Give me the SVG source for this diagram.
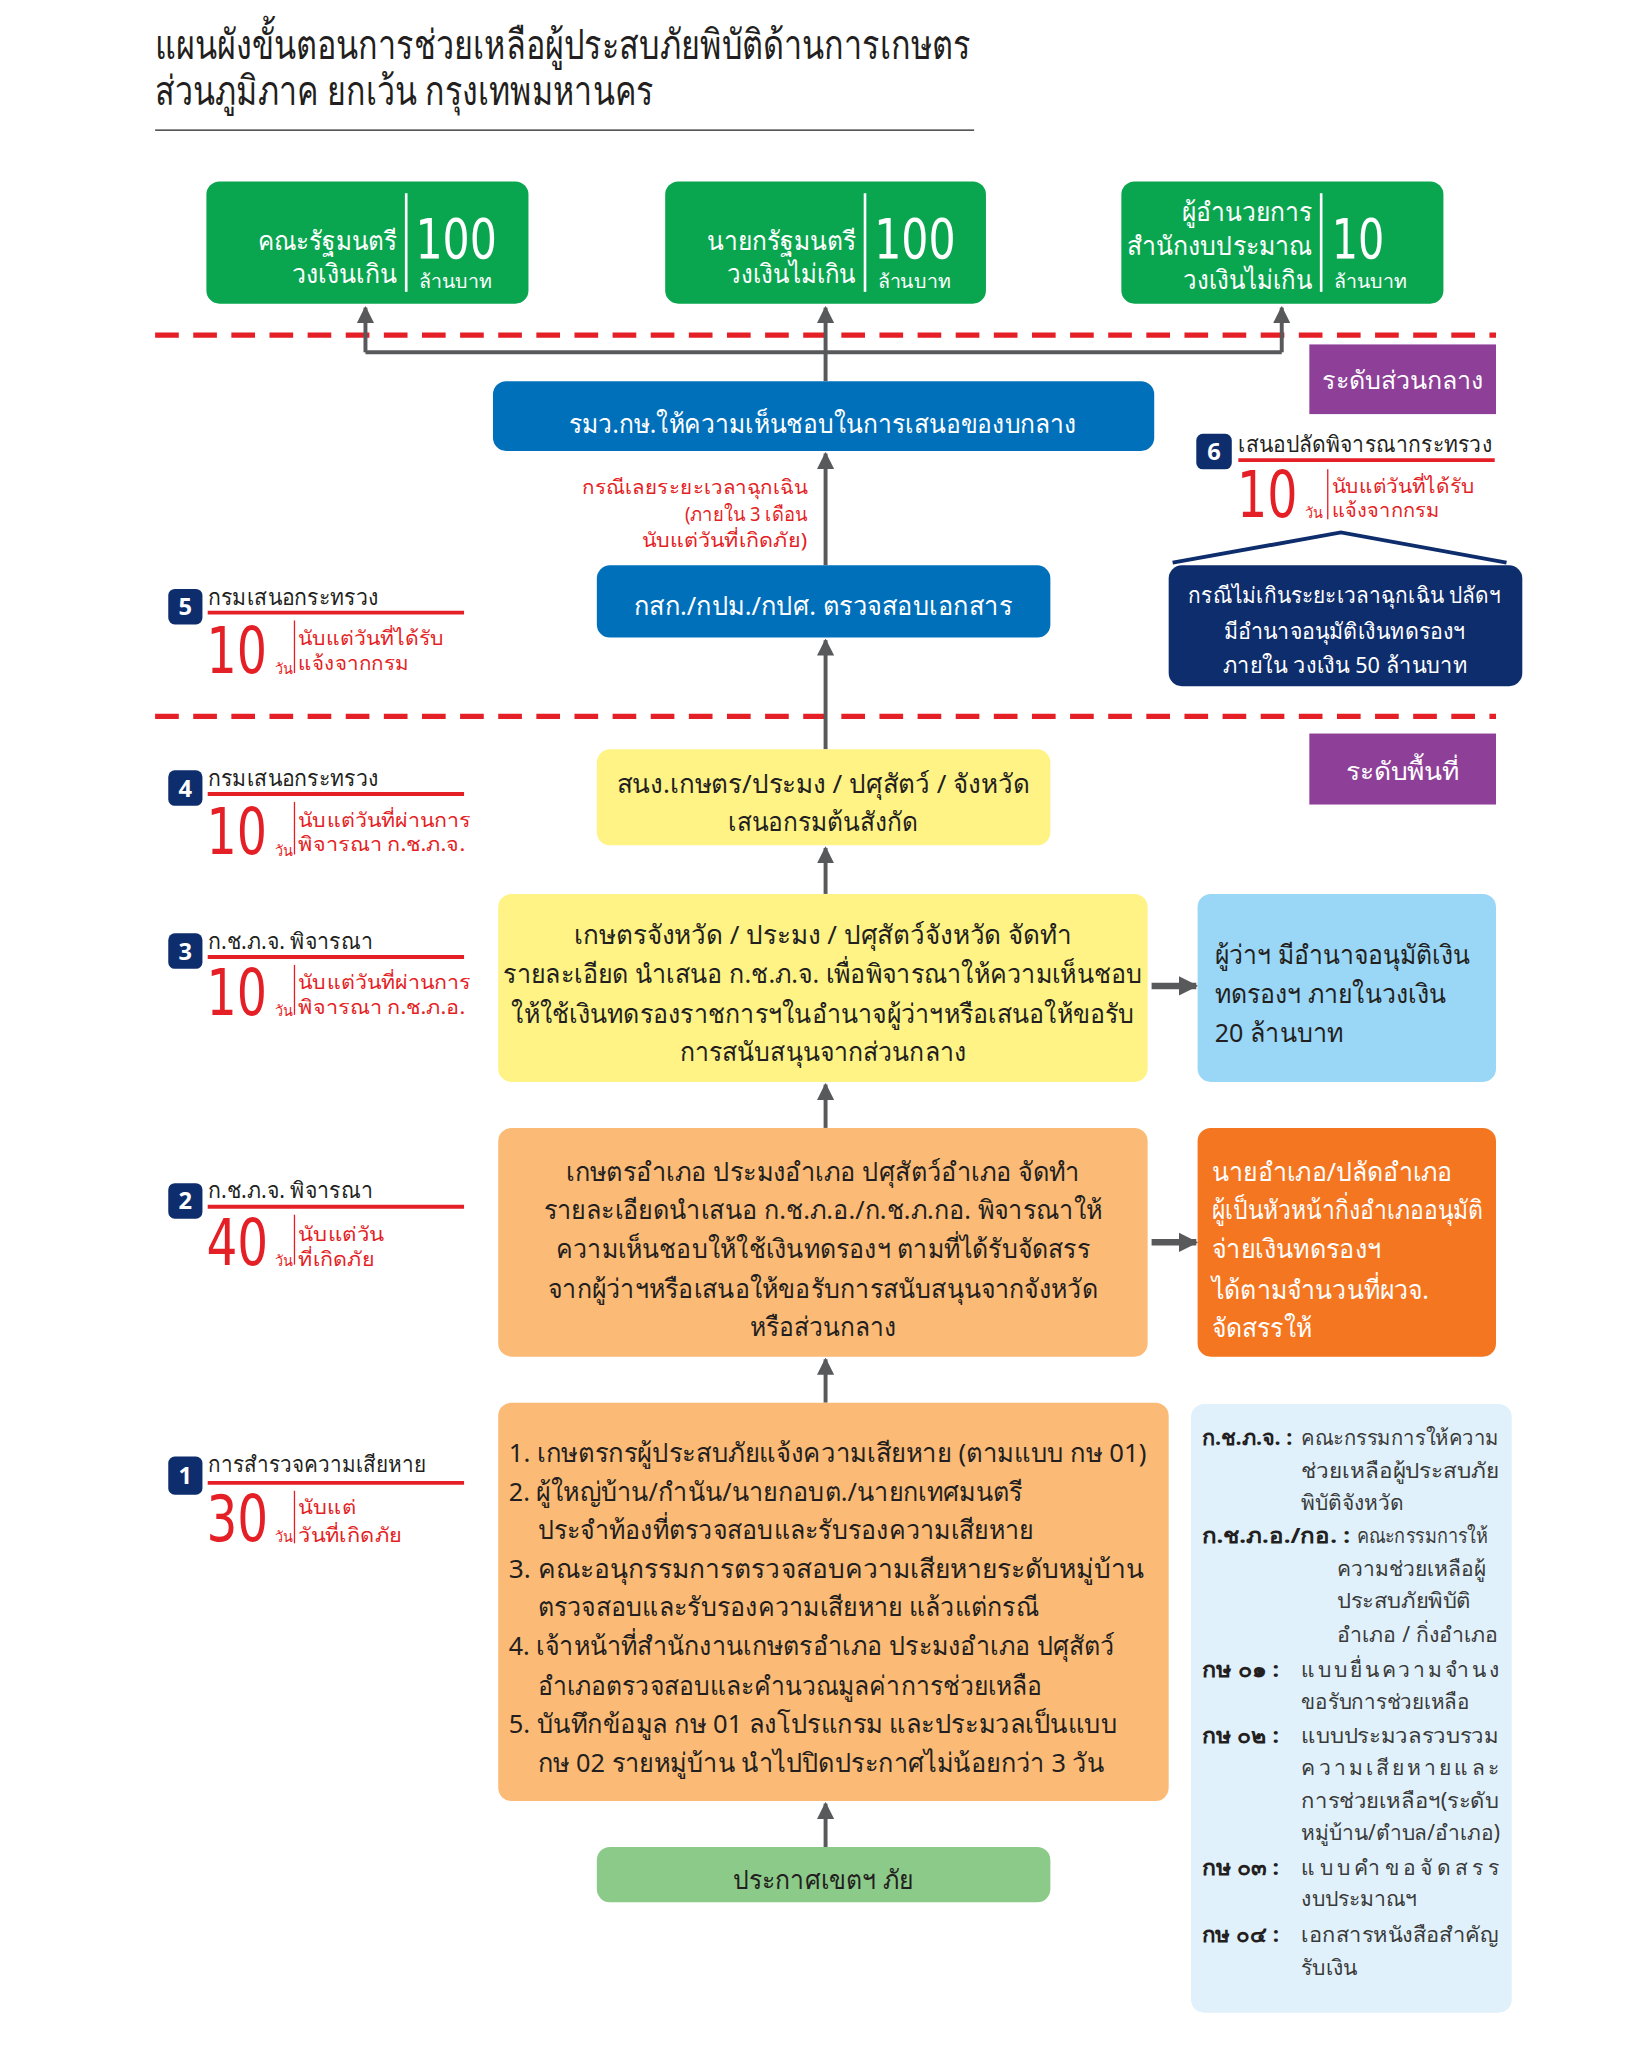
<svg xmlns="http://www.w3.org/2000/svg" width="1650" height="2060" viewBox="0 0 1650 2060">
<defs>
<style>
text{font-family:"Noto Sans","DejaVu Sans",sans-serif;}
.t{fill:#231f20;}
.w{fill:#fff;}
.title{font-size:31px;fill:#231f20;}
.gname{font-size:20px;fill:#fff;text-anchor:end;}
.gnum{font-size:42px;fill:#fff;font-family:"Liberation Sans Narrow","DejaVu Sans Condensed","Noto Sans",sans-serif;}
.gunit{font-size:14px;fill:#fff;}
.box20{font-size:20px;text-anchor:middle;}
.lbl{font-size:17px;fill:#231f20;}
.big{font-size:49px;fill:#e41f26;font-family:"Liberation Sans Narrow","DejaVu Sans Condensed","Noto Sans",sans-serif;}
.day{font-size:11px;fill:#e41f26;}
.side{font-size:15px;fill:#e41f26;}
.badge{fill:#0e2d6c;}
.bnum{font-size:18px;fill:#fff;text-anchor:middle;font-weight:bold;}
.leg{font-size:16px;fill:#3a3a3a;}
.legb{font-size:16px;fill:#231f20;font-weight:bold;}
.dash{stroke:#e41f26;stroke-width:4;stroke-dasharray:18 11;fill:none;}
.conn{stroke:#58595b;stroke-width:3;fill:none;}
.connb{stroke:#58595b;stroke-width:5;fill:none;}
.redl{stroke:#e41f26;stroke-width:3;}
.redt{stroke:#e41f26;stroke-width:1;}
</style>
<marker id="ah" viewBox="0 0 10 10" refX="9" refY="5" markerWidth="13" markerHeight="13" orient="auto" markerUnits="userSpaceOnUse"><path d="M0,0 L10,5 L0,10 z" fill="#58595b"/></marker>
<marker id="ahb" viewBox="0 0 10 10" refX="9" refY="5" markerWidth="15" markerHeight="18" orient="auto" markerUnits="userSpaceOnUse"><path d="M0,0 L10,5 L0,10 z" fill="#58595b"/></marker>
</defs>
<rect width="1650" height="2060" fill="#fff"/>
<g transform="scale(1.3146)">
<g id="title">
<text class="title" x="118" y="45" textLength="620" lengthAdjust="spacingAndGlyphs">แผนผังขั้นตอนการช่วยเหลือผู้ประสบภัยพิบัติด้านการเกษตร</text>
<text class="title" x="118" y="80" textLength="379" lengthAdjust="spacingAndGlyphs">ส่วนภูมิภาค ยกเว้น กรุงเทพมหานคร</text>
<line x1="118" y1="99" x2="741" y2="99" stroke="#231f20" stroke-width="1"/>
</g>
<g id="dashes">
<line class="dash" x1="118" y1="255" x2="1138" y2="255"/>
<line class="dash" x1="118" y1="545" x2="1138" y2="545"/>
</g>
<g id="connectors">
<path class="conn" d="M278,268 H975"/>
<path class="conn" d="M278,268 V234" marker-end="url(#ah)"/>
<path class="conn" d="M975,268 V234" marker-end="url(#ah)"/>
<path class="conn" d="M628,290 V234" marker-end="url(#ah)"/>
<path class="conn" d="M628,430 V345" marker-end="url(#ah)"/>
<path class="conn" d="M628,570 V487" marker-end="url(#ah)"/>
<path class="conn" d="M628,680 V645" marker-end="url(#ah)"/>
<path class="conn" d="M628,858 V825" marker-end="url(#ah)"/>
<path class="conn" d="M628,1067 V1034" marker-end="url(#ah)"/>
<path class="conn" d="M628,1405 V1372" marker-end="url(#ah)"/>
<path class="connb" d="M876,750 H910" marker-end="url(#ahb)"/>
<path class="connb" d="M876,945 H910" marker-end="url(#ahb)"/>
<polyline points="892,428 1020,405 1146,428" fill="none" stroke="#0e2d6c" stroke-width="3"/>
</g>
<g id="cabinet">
<rect x="157" y="138" width="245" height="93" rx="10" fill="#0aa64f"/>
<line x1="309" y1="147" x2="309" y2="222" stroke="#fff" stroke-width="2"/>
<text class="gname" x="302" y="190" textLength="106" lengthAdjust="spacingAndGlyphs">คณะรัฐมนตรี</text>
<text class="gname" x="302" y="215" textLength="80" lengthAdjust="spacingAndGlyphs">วงเงินเกิน</text>
<text class="gnum" x="316" y="196" textLength="62" lengthAdjust="spacingAndGlyphs">100</text>
<text class="gunit" x="319" y="219" textLength="55" lengthAdjust="spacingAndGlyphs">ล้านบาท</text>
</g>
<g id="pm">
<rect x="506" y="138" width="244" height="93" rx="10" fill="#0aa64f"/>
<line x1="658" y1="147" x2="658" y2="222" stroke="#fff" stroke-width="2"/>
<text class="gname" x="651" y="190" textLength="113" lengthAdjust="spacingAndGlyphs">นายกรัฐมนตรี</text>
<text class="gname" x="651" y="215" textLength="98" lengthAdjust="spacingAndGlyphs">วงเงินไม่เกิน</text>
<text class="gnum" x="665" y="196" textLength="62" lengthAdjust="spacingAndGlyphs">100</text>
<text class="gunit" x="668" y="219" textLength="55" lengthAdjust="spacingAndGlyphs">ล้านบาท</text>
</g>
<g id="budget">
<rect x="853" y="138" width="245" height="93" rx="10" fill="#0aa64f"/>
<line x1="1005" y1="147" x2="1005" y2="222" stroke="#fff" stroke-width="2"/>
<text class="gname" x="998" y="168" textLength="99" lengthAdjust="spacingAndGlyphs">ผู้อำนวยการ</text>
<text class="gname" x="998" y="194" textLength="141" lengthAdjust="spacingAndGlyphs">สำนักงบประมาณ</text>
<text class="gname" x="998" y="220" textLength="98" lengthAdjust="spacingAndGlyphs">วงเงินไม่เกิน</text>
<text class="gnum" x="1013" y="196" textLength="40" lengthAdjust="spacingAndGlyphs">10</text>
<text class="gunit" x="1015" y="219" textLength="55" lengthAdjust="spacingAndGlyphs">ล้านบาท</text>
</g>
<g id="level-central">
<rect x="996" y="262" width="142" height="53" fill="#8e3f97"/>
<text class="w" x="1067" y="296" font-size="19" text-anchor="middle" textLength="122" lengthAdjust="spacingAndGlyphs">ระดับส่วนกลาง</text>
</g>
<g id="minister">
<rect x="375" y="290" width="503" height="53" rx="10" fill="#0070bb"/>
<text class="box20 w" x="626" y="329" textLength="386" lengthAdjust="spacingAndGlyphs">รมว.กษ.ให้ความเห็นชอบในการเสนอของบกลาง</text>
</g>
<g id="emergency-note">
<text class="side" x="614" y="376" font-size="16" text-anchor="end" textLength="171" lengthAdjust="spacingAndGlyphs">กรณีเลยระยะเวลาฉุกเฉิน</text>
<text class="side" x="614" y="396" font-size="16" text-anchor="end" textLength="93" lengthAdjust="spacingAndGlyphs">(ภายใน 3 เดือน</text>
<text class="side" x="614" y="416" font-size="16" text-anchor="end" textLength="126" lengthAdjust="spacingAndGlyphs">นับแต่วันที่เกิดภัย)</text>
</g>
<g id="step6">
<rect class="badge" x="910" y="330" width="27" height="27" rx="5"/>
<text class="bnum" x="923.5" y="350">6</text>
<text class="lbl" x="942" y="344" textLength="193" lengthAdjust="spacingAndGlyphs">เสนอปลัดพิจารณากระทรวง</text>
<line class="redl" x1="942" y1="350" x2="1137" y2="350"/>
<text class="big" x="941" y="393" textLength="46" lengthAdjust="spacingAndGlyphs">10</text>
<text class="day" x="993" y="394">วัน</text>
<line class="redt" x1="1010" y1="357" x2="1010" y2="395"/>
<text class="side" x="1013" y="375" textLength="109" lengthAdjust="spacingAndGlyphs">นับแต่วันที่ได้รับ</text>
<text class="side" x="1013" y="393" textLength="82" lengthAdjust="spacingAndGlyphs">แจ้งจากกรม</text>
</g>
<g id="permsec">
<rect x="889" y="430" width="269" height="92" rx="10" fill="#0e2d6c"/>
<text class="w" x="1023" y="459" font-size="17" text-anchor="middle" textLength="238" lengthAdjust="spacingAndGlyphs">กรณีไม่เกินระยะเวลาฉุกเฉิน ปลัดฯ</text>
<text class="w" x="1023" y="486" font-size="17" text-anchor="middle" textLength="184" lengthAdjust="spacingAndGlyphs">มีอำนาจอนุมัติเงินทดรองฯ</text>
<text class="w" x="1023" y="512" font-size="17" text-anchor="middle" textLength="186" lengthAdjust="spacingAndGlyphs">ภายใน วงเงิน 50 ล้านบาท</text>
</g>
<g id="dept-check">
<rect x="454" y="430" width="345" height="55" rx="10" fill="#0070bb"/>
<text class="box20 w" x="626" y="468" textLength="288" lengthAdjust="spacingAndGlyphs">กสก./กปม./กปศ. ตรวจสอบเอกสาร</text>
</g>
<g id="step5">
<rect class="badge" x="128" y="448" width="26" height="27" rx="5"/>
<text class="bnum" x="141" y="468">5</text>
<text class="lbl" x="158" y="460" textLength="130" lengthAdjust="spacingAndGlyphs">กรมเสนอกระทรวง</text>
<line class="redl" x1="158" y1="466" x2="353" y2="466"/>
<text class="big" x="157" y="512" textLength="46" lengthAdjust="spacingAndGlyphs">10</text>
<text class="day" x="209" y="513">วัน</text>
<line class="redt" x1="224" y1="472" x2="224" y2="512"/>
<text class="side" x="227" y="491" textLength="111" lengthAdjust="spacingAndGlyphs">นับแต่วันที่ได้รับ</text>
<text class="side" x="227" y="510" textLength="84" lengthAdjust="spacingAndGlyphs">แจ้งจากกรม</text>
</g>
<g id="level-area">
<rect x="996" y="558" width="142" height="54" fill="#8e3f97"/>
<text class="w" x="1067" y="593" font-size="19" text-anchor="middle" textLength="86" lengthAdjust="spacingAndGlyphs">ระดับพื้นที่</text>
</g>
<g id="provincial-office">
<rect x="454" y="570" width="345" height="73" rx="10" fill="#fff385"/>
<text class="box20 t" x="626" y="603" textLength="314" lengthAdjust="spacingAndGlyphs">สนง.เกษตร/ประมง / ปศุสัตว์ / จังหวัด</text>
<text class="box20 t" x="626" y="632" textLength="144" lengthAdjust="spacingAndGlyphs">เสนอกรมต้นสังกัด</text>
</g>
<g id="step4">
<rect class="badge" x="128" y="586" width="26" height="27" rx="5"/>
<text class="bnum" x="141" y="606">4</text>
<text class="lbl" x="158" y="598" textLength="130" lengthAdjust="spacingAndGlyphs">กรมเสนอกระทรวง</text>
<line class="redl" x1="158" y1="604" x2="353" y2="604"/>
<text class="big" x="157" y="650" textLength="46" lengthAdjust="spacingAndGlyphs">10</text>
<text class="day" x="209" y="651">วัน</text>
<line class="redt" x1="224" y1="610" x2="224" y2="650"/>
<text class="side" x="227" y="629" textLength="131" lengthAdjust="spacingAndGlyphs">นับแต่วันที่ผ่านการ</text>
<text class="side" x="227" y="647" textLength="127" lengthAdjust="spacingAndGlyphs">พิจารณา ก.ช.ภ.จ.</text>
</g>
<g id="provincial">
<rect x="379" y="680" width="494" height="143" rx="10" fill="#fff385"/>
<text class="box20 t" x="626" y="718" textLength="378" lengthAdjust="spacingAndGlyphs">เกษตรจังหวัด / ประมง / ปศุสัตว์จังหวัด จัดทำ</text>
<text class="box20 t" x="626" y="748" textLength="486" lengthAdjust="spacingAndGlyphs">รายละเอียด นำเสนอ ก.ช.ภ.จ. เพื่อพิจารณาให้ความเห็นชอบ</text>
<text class="box20 t" x="626" y="778" textLength="474" lengthAdjust="spacingAndGlyphs">ให้ใช้เงินทดรองราชการฯในอำนาจผู้ว่าฯหรือเสนอให้ขอรับ</text>
<text class="box20 t" x="626" y="807" textLength="218" lengthAdjust="spacingAndGlyphs">การสนับสนุนจากส่วนกลาง</text>
</g>
<g id="governor">
<rect x="911" y="680" width="227" height="143" rx="10" fill="#9ad6f6"/>
<text class="t" x="924" y="733" font-size="20" textLength="194" lengthAdjust="spacingAndGlyphs">ผู้ว่าฯ มีอำนาจอนุมัติเงิน</text>
<text class="t" x="924" y="763" font-size="20" textLength="176" lengthAdjust="spacingAndGlyphs">ทดรองฯ ภายในวงเงิน</text>
<text class="t" x="924" y="793" font-size="20" textLength="98" lengthAdjust="spacingAndGlyphs">20 ล้านบาท</text>
</g>
<g id="step3">
<rect class="badge" x="128" y="710" width="26" height="27" rx="5"/>
<text class="bnum" x="141" y="730">3</text>
<text class="lbl" x="158" y="722" textLength="126" lengthAdjust="spacingAndGlyphs">ก.ช.ภ.จ. พิจารณา</text>
<line class="redl" x1="158" y1="728" x2="353" y2="728"/>
<text class="big" x="157" y="772" textLength="46" lengthAdjust="spacingAndGlyphs">10</text>
<text class="day" x="209" y="773">วัน</text>
<line class="redt" x1="224" y1="734" x2="224" y2="772"/>
<text class="side" x="227" y="752" textLength="131" lengthAdjust="spacingAndGlyphs">นับแต่วันที่ผ่านการ</text>
<text class="side" x="227" y="771" textLength="127" lengthAdjust="spacingAndGlyphs">พิจารณา ก.ช.ภ.อ.</text>
</g>
<g id="district">
<rect x="379" y="858" width="494" height="174" rx="10" fill="#fbbb76"/>
<text class="box20 t" x="626" y="898" textLength="391" lengthAdjust="spacingAndGlyphs">เกษตรอำเภอ ประมงอำเภอ ปศุสัตว์อำเภอ จัดทำ</text>
<text class="box20 t" x="626" y="927" textLength="425" lengthAdjust="spacingAndGlyphs">รายละเอียดนำเสนอ ก.ช.ภ.อ./ก.ช.ภ.กอ. พิจารณาให้</text>
<text class="box20 t" x="626" y="957" textLength="406" lengthAdjust="spacingAndGlyphs">ความเห็นชอบให้ใช้เงินทดรองฯ ตามที่ได้รับจัดสรร</text>
<text class="box20 t" x="626" y="987" textLength="418" lengthAdjust="spacingAndGlyphs">จากผู้ว่าฯหรือเสนอให้ขอรับการสนับสนุนจากจังหวัด</text>
<text class="box20 t" x="626" y="1016" textLength="111" lengthAdjust="spacingAndGlyphs">หรือส่วนกลาง</text>
</g>
<g id="district-chief">
<rect x="911" y="858" width="227" height="174" rx="10" fill="#f47621"/>
<text class="w" x="922" y="898" font-size="20" textLength="183" lengthAdjust="spacingAndGlyphs">นายอำเภอ/ปลัดอำเภอ</text>
<text class="w" x="922" y="927" font-size="20" textLength="206" lengthAdjust="spacingAndGlyphs">ผู้เป็นหัวหน้ากิ่งอำเภออนุมัติ</text>
<text class="w" x="922" y="957" font-size="20" textLength="129" lengthAdjust="spacingAndGlyphs">จ่ายเงินทดรองฯ</text>
<text class="w" x="922" y="988" font-size="20" textLength="165" lengthAdjust="spacingAndGlyphs">ได้ตามจำนวนที่ผวจ.</text>
<text class="w" x="922" y="1017" font-size="20" textLength="76" lengthAdjust="spacingAndGlyphs">จัดสรรให้</text>
</g>
<g id="step2">
<rect class="badge" x="128" y="900" width="26" height="27" rx="5"/>
<text class="bnum" x="141" y="920">2</text>
<text class="lbl" x="158" y="911" textLength="126" lengthAdjust="spacingAndGlyphs">ก.ช.ภ.จ. พิจารณา</text>
<line class="redl" x1="158" y1="918" x2="353" y2="918"/>
<text class="big" x="157" y="962" textLength="47" lengthAdjust="spacingAndGlyphs">40</text>
<text class="day" x="209" y="963">วัน</text>
<line class="redt" x1="224" y1="924" x2="224" y2="962"/>
<text class="side" x="227" y="944" textLength="65" lengthAdjust="spacingAndGlyphs">นับแต่วัน</text>
<text class="side" x="227" y="963" textLength="58" lengthAdjust="spacingAndGlyphs">ที่เกิดภัย</text>
</g>
<g id="survey">
<rect x="379" y="1067" width="510" height="303" rx="10" fill="#fbbb76"/>
<text class="t" x="387" y="1112" font-size="20" textLength="485" lengthAdjust="spacingAndGlyphs">1. เกษตรกรผู้ประสบภัยแจ้งความเสียหาย (ตามแบบ กษ 01)</text>
<text class="t" x="387" y="1142" font-size="20" textLength="391" lengthAdjust="spacingAndGlyphs">2. ผู้ใหญ่บ้าน/กำนัน/นายกอบต./นายกเทศมนตรี</text>
<text class="t" x="409" y="1171" font-size="20" textLength="377" lengthAdjust="spacingAndGlyphs">ประจำท้องที่ตรวจสอบและรับรองความเสียหาย</text>
<text class="t" x="387" y="1200" font-size="20" textLength="483" lengthAdjust="spacingAndGlyphs">3. คณะอนุกรรมการตรวจสอบความเสียหายระดับหมู่บ้าน</text>
<text class="t" x="409" y="1229" font-size="20" textLength="381" lengthAdjust="spacingAndGlyphs">ตรวจสอบและรับรองความเสียหาย แล้วแต่กรณี</text>
<text class="t" x="387" y="1259" font-size="20" textLength="461" lengthAdjust="spacingAndGlyphs">4. เจ้าหน้าที่สำนักงานเกษตรอำเภอ ประมงอำเภอ ปศุสัตว์</text>
<text class="t" x="409" y="1289" font-size="20" textLength="384" lengthAdjust="spacingAndGlyphs">อำเภอตรวจสอบและคำนวณมูลค่าการช่วยเหลือ</text>
<text class="t" x="387" y="1318" font-size="20" textLength="463" lengthAdjust="spacingAndGlyphs">5. บันทึกข้อมูล กษ 01 ลงโปรแกรม และประมวลเป็นแบบ</text>
<text class="t" x="409" y="1348" font-size="20" textLength="431" lengthAdjust="spacingAndGlyphs">กษ 02 รายหมู่บ้าน นำไปปิดประกาศไม่น้อยกว่า 3 วัน</text>
</g>
<g id="step1">
<rect class="badge" x="128" y="1108" width="26" height="29" rx="5"/>
<text class="bnum" x="141" y="1129">1</text>
<text class="lbl" x="158" y="1120" textLength="166" lengthAdjust="spacingAndGlyphs">การสำรวจความเสียหาย</text>
<line class="redl" x1="158" y1="1128" x2="353" y2="1128"/>
<text class="big" x="157" y="1172" textLength="47" lengthAdjust="spacingAndGlyphs">30</text>
<text class="day" x="209" y="1173">วัน</text>
<line class="redt" x1="224" y1="1134" x2="224" y2="1174"/>
<text class="side" x="227" y="1152" textLength="44" lengthAdjust="spacingAndGlyphs">นับแต่</text>
<text class="side" x="227" y="1173" textLength="79" lengthAdjust="spacingAndGlyphs">วันที่เกิดภัย</text>
</g>
<g id="declare">
<rect x="454" y="1405" width="345" height="42" rx="10" fill="#8cca89"/>
<text class="box20 t" x="626" y="1437" textLength="137" lengthAdjust="spacingAndGlyphs">ประกาศเขตฯ ภัย</text>
</g>
<g id="legend">
<rect x="906" y="1068" width="244" height="463" rx="10" fill="#e0f1fb"/>
<text class="legb" x="914" y="1099" textLength="69" lengthAdjust="spacingAndGlyphs">ก.ช.ภ.จ. :</text>
<text class="leg" x="990" y="1099" textLength="150" lengthAdjust="spacingAndGlyphs">คณะกรรมการให้ความ</text>
<text class="leg" x="990" y="1124" textLength="150" lengthAdjust="spacingAndGlyphs">ช่วยเหลือผู้ประสบภัย</text>
<text class="leg" x="990" y="1149" textLength="78" lengthAdjust="spacingAndGlyphs">พิบัติจังหวัด</text>
<text class="legb" x="914" y="1174" textLength="113" lengthAdjust="spacingAndGlyphs">ก.ช.ภ.อ./กอ. :</text>
<text class="leg" x="1032" y="1174" textLength="100" lengthAdjust="spacingAndGlyphs">คณะกรรมการให้</text>
<text class="leg" x="1017" y="1199" textLength="113" lengthAdjust="spacingAndGlyphs">ความช่วยเหลือผู้</text>
<text class="leg" x="1017" y="1223" textLength="102" lengthAdjust="spacingAndGlyphs">ประสบภัยพิบัติ</text>
<text class="leg" x="1017" y="1249" textLength="123" lengthAdjust="spacingAndGlyphs">อำเภอ / กิ่งอำเภอ</text>
<text class="legb" x="914" y="1276" textLength="59" lengthAdjust="spacingAndGlyphs">กษ ๐๑ :</text>
<text class="leg" x="990" y="1276" textLength="150" lengthAdjust="spacing">แบบยื่นความจำนง</text>
<text class="leg" x="990" y="1300" textLength="128" lengthAdjust="spacingAndGlyphs">ขอรับการช่วยเหลือ</text>
<text class="legb" x="914" y="1326" textLength="59" lengthAdjust="spacingAndGlyphs">กษ ๐๒ :</text>
<text class="leg" x="990" y="1326" textLength="150" lengthAdjust="spacingAndGlyphs">แบบประมวลรวบรวม</text>
<text class="leg" x="990" y="1350" textLength="150" lengthAdjust="spacing">ความเสียหายและ</text>
<text class="leg" x="990" y="1375" textLength="150" lengthAdjust="spacingAndGlyphs">การช่วยเหลือฯ(ระดับ</text>
<text class="leg" x="990" y="1400" textLength="151" lengthAdjust="spacingAndGlyphs">หมู่บ้าน/ตำบล/อำเภอ)</text>
<text class="legb" x="914" y="1426" textLength="59" lengthAdjust="spacingAndGlyphs">กษ ๐๓ :</text>
<text class="leg" x="990" y="1426" textLength="150" lengthAdjust="spacing">แบบคำขอจัดสรร</text>
<text class="leg" x="990" y="1450" textLength="88" lengthAdjust="spacingAndGlyphs">งบประมาณฯ</text>
<text class="legb" x="914" y="1477" textLength="59" lengthAdjust="spacingAndGlyphs">กษ ๐๔ :</text>
<text class="leg" x="990" y="1477" textLength="150" lengthAdjust="spacingAndGlyphs">เอกสารหนังสือสำคัญ</text>
<text class="leg" x="990" y="1502" textLength="42" lengthAdjust="spacingAndGlyphs">รับเงิน</text>
</g>
</g>
</svg>
